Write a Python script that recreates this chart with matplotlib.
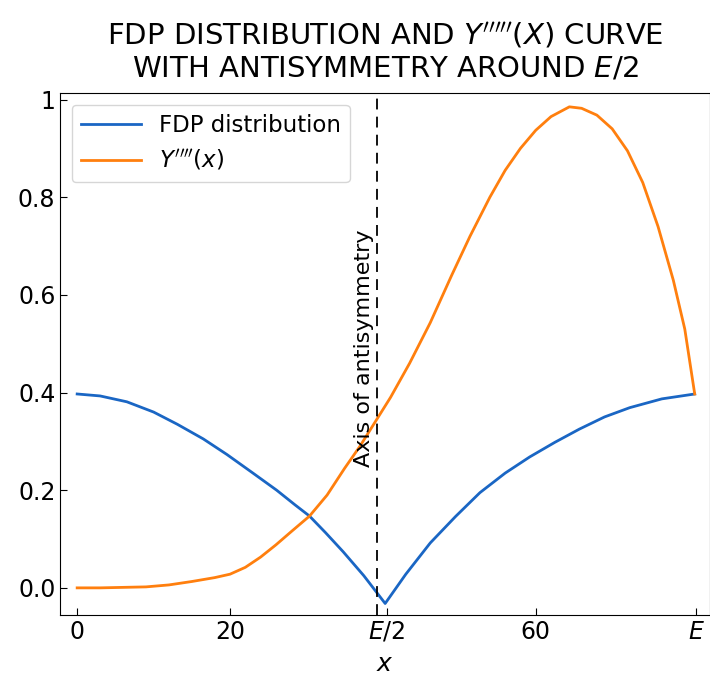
import numpy as np
import matplotlib
matplotlib.use("Agg")
import matplotlib.pyplot as plt

# values
E = 81.0
axis_x = 39.2

fdp_x = [0, 3, 6.5, 10, 13.1, 16.5, 19.6, 23, 26.1, 28.5, 30.4, 32.5, 34.8, 37.5, 40.3,
         43, 46.2, 49.5, 52.7, 56, 59.2, 62.5, 65.7, 69, 72.3, 76.5, 80.8]
fdp_y = [0.397, 0.393, 0.381, 0.36, 0.335, 0.305, 0.273, 0.235, 0.2, 0.17, 0.147, 0.113,
         0.074, 0.025, -0.032, 0.028, 0.092, 0.146, 0.195, 0.235, 0.268, 0.298, 0.325,
         0.35, 0.369, 0.387, 0.397]

y4_x = [0, 3, 6, 9, 12, 15, 18, 20, 22, 24, 26, 28, 30.4, 32.7, 35, 37, 39.2, 41, 43.5,
        46.2, 49, 51.4, 54, 56, 58, 60, 62, 64.4, 66, 68, 70, 72, 74, 76, 78, 79.5, 80.8]
y4_y = [0, 0, 0.001, 0.002, 0.006, 0.013, 0.021, 0.028, 0.042, 0.063, 0.088, 0.115, 0.147,
        0.19, 0.245, 0.29, 0.345, 0.39, 0.46, 0.543, 0.64, 0.72, 0.8, 0.855, 0.9, 0.937,
        0.965, 0.985, 0.982, 0.968, 0.94, 0.895, 0.83, 0.74, 0.63, 0.53, 0.397]

xtick_pos = [0, 20, E / 2, 60, E]
xtick_lab = ['0', '20', '$E/2$', '60', '$E$']
ytick_pos = [0.0, 0.2, 0.4, 0.6, 0.8, 1.0]
ytick_lab = ['0.0', '0.2', '0.4', '0.6', '0.8', '1']

fig = plt.figure(figsize=(7.1, 6.8), dpi=100)
ax = fig.add_axes([0.085, 0.096, 0.915, 0.767])

ax.plot(fdp_x, fdp_y, color='#1a66c4', lw=2, label='FDP distribution')
ax.plot(y4_x, y4_y, color='#ff7f0e', lw=2, label="$Y''''(x)$")
ax.axvline(axis_x, color='black', ls=(0, (6, 4)), lw=1.3)
ax.text(axis_x - 0.4, 0.49, 'Axis of antisymmetry', rotation=90,
        ha='right', va='center', fontsize=16)

ax.set_xlim(-2.2, 82.8)
ax.set_ylim(-0.055, 1.013)
ax.set_xticks(xtick_pos)
ax.set_xticklabels(xtick_lab)
ax.set_yticks(ytick_pos)
ax.set_yticklabels(ytick_lab)
ax.tick_params(direction='in', labelsize=17, length=5)

ax.set_xlabel('$x$', fontsize=18, labelpad=6)
ax.set_title("FDP DISTRIBUTION AND $Y'''''(X)$ CURVE\nWITH ANTISYMMETRY AROUND $E/2$",
             fontsize=21, pad=12)
ax.legend(loc='upper left', fontsize=16.5, borderaxespad=0.5, handlelength=2.6)

plt.savefig('out.png', dpi=100)
